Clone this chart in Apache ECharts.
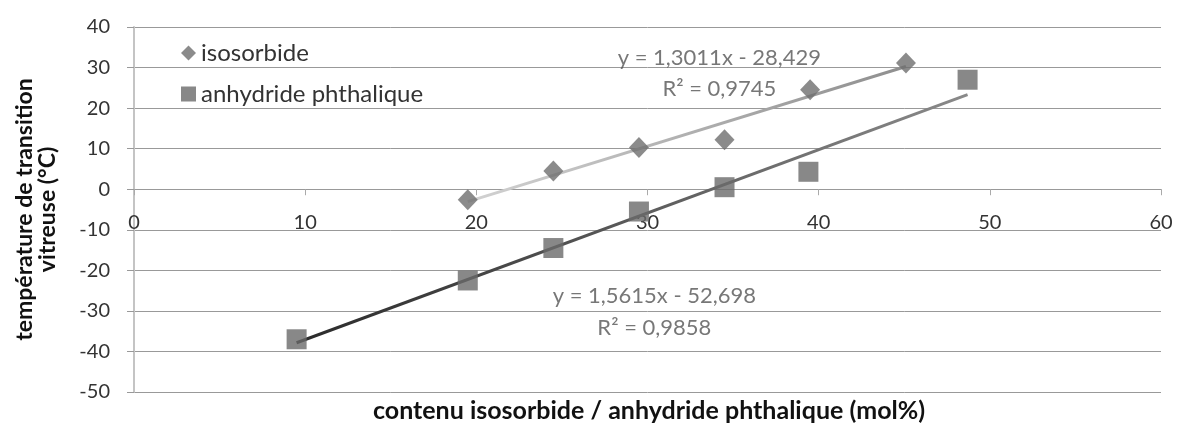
<!DOCTYPE html>
<html>
<head>
<meta charset="utf-8">
<script src="https://cdn.jsdelivr.net/npm/echarts@6/dist/echarts.min.js"></script>
<style>
	html, body { margin: 0; padding: 0; background: #fff; }
	#chart { width: 1183px; height: 427px; }
</style>
</head>
<body>
<div id="chart"></div>
<script>
// points: [mol%, Tg °C]
const isosorbide = [[19.5, -2.6], [24.5, 4.5], [29.5, 10.3], [34.5, 12.2], [39.5, 24.5], [45.1, 31.1]]
const anhydride = [[9.5, -37], [19.5, -22.5], [24.5, -14.5], [29.5, -5.5], [34.5, 0.5], [39.4, 4.3], [48.7, 27]]

// linear trend lines as printed on the chart
const isoFit = { slope: 1.3011, intercept: -28.429, from: 19.5, to: 45.1 }
const anhFit = { slope: 1.5615, intercept: -52.698, from: 9.5, to: 48.7 }

// equation labels: [x, y, text]
const equationLabels = [
	[34.2, 32.4, 'y = 1,3011x - 28,429'],
	[34.2, 24.7, 'R² = 0,9745'],
	[30.4, -26.3, 'y = 1,5615x - 52,698'],
	[30.4, -34.2, 'R² = 0,9858']
]

const xTicks = [0, 60, 10]
const yTicks = [-50, 40, 10]

const node = document.getElementById('chart')
const myChart = echarts.init(node)

const fitLine = (fit) => [
	[fit.from, fit.slope * fit.from + fit.intercept],
	[fit.to, fit.slope * fit.to + fit.intercept]
]

const font = 'Lato, "Open Sans", sans-serif'

const grid = { left: 134, right: 22, top: 27, bottom: 35 }
// x axis sits on y = 0 (Excel style), shift it up from the bottom edge
const gridHeight = 427 - grid.top - grid.bottom
const zeroOffset = -((0 - yTicks[0]) / (yTicks[1] - yTicks[0])) * gridHeight

const option = {
	animation: false,
	textStyle: { fontFamily: font },
	grid: Object.assign({ outerBoundsMode: 'none', containLabel: false }, grid),
	legend: {
		orient: 'vertical',
		left: 176,
		top: 36,
		itemGap: 17,
		itemWidth: 15,
		itemHeight: 15,
		textStyle: { fontSize: 24, color: '#333', fontFamily: font },
		data: [
			{ name: 'isosorbide', icon: 'diamond' },
			{ name: 'anhydride phthalique', icon: 'rect' }
		]
	},
	xAxis: {
		type: 'value',
		min: xTicks[0],
		max: xTicks[1],
		interval: xTicks[2],
		position: 'bottom',
		offset: zeroOffset,
		axisLine: { show: true, onZero: false, lineStyle: { color: '#999', width: 1 } },
		axisTick: { show: true, length: 6, lineStyle: { color: '#aaa' } },
		axisLabel: { fontSize: 20, color: '#333', margin: 23 },
		splitLine: { show: false }
	},
	yAxis: {
		type: 'value',
		min: yTicks[0],
		max: yTicks[1],
		interval: yTicks[2],
		name: 'température de transition\nvitreuse (°C)',
		nameLocation: 'middle',
		nameRotate: 90,
		nameGap: 75,
		nameTextStyle: { fontSize: 23, fontWeight: 'bold', color: '#111', lineHeight: 23 },
		axisLine: { show: true, onZero: false, lineStyle: { color: '#c4c4c4', width: 2 } },
		axisTick: { show: true, length: 7, lineStyle: { color: '#999' } },
		axisLabel: { fontSize: 20, color: '#333', margin: 24 },
		splitLine: { lineStyle: { color: '#999', width: 1 } }
	},
	graphic: [
		{
			type: 'text',
			x: 649,
			y: 411,
			style: {
				text: 'contenu isosorbide / anhydride phthalique (mol%)',
				font: 'bold 25px ' + font,
				fill: '#111',
				align: 'center',
				verticalAlign: 'middle'
			}
		}
	],
	series: [
		{
			name: 'isosorbide trend',
			type: 'line',
			data: fitLine(isoFit),
			showSymbol: false,
			silent: true,
			z: 1,
			lineStyle: {
				width: 3,
				color: new echarts.graphic.LinearGradient(0, 0, 1, 0, [
					{ offset: 0, color: '#d2d2d2' },
					{ offset: 1, color: '#8e8e8e' }
				])
			}
		},
		{
			name: 'anhydride trend',
			type: 'line',
			data: fitLine(anhFit),
			showSymbol: false,
			silent: true,
			z: 1,
			lineStyle: {
				width: 3,
				color: new echarts.graphic.LinearGradient(0, 0, 1, 0, [
					{ offset: 0, color: '#2a2a2a' },
					{ offset: 1, color: '#8a8a8a' }
				])
			}
		},
		{
			name: 'isosorbide',
			type: 'scatter',
			symbol: 'diamond',
			symbolSize: [20, 21],
			itemStyle: { color: '#6e6e6e' },
			z: 3,
			data: isosorbide
		},
		{
			name: 'anhydride phthalique',
			type: 'scatter',
			symbol: 'rect',
			symbolSize: 20,
			itemStyle: { color: '#6a6a6a' },
			z: 3,
			data: anhydride
		},
		{
			name: 'equations',
			type: 'scatter',
			symbolSize: 0,
			silent: true,
			z: 4,
			data: equationLabels,
			label: {
				show: true,
				position: 'inside',
				formatter: (p) => p.data[2],
				fontSize: 22,
				color: '#555',
				fontFamily: font
			}
		}
	]
}

myChart.setOption(option)

window.addEventListener('resize', () => {
	myChart.resize()
})
</script>
</body>
</html>
